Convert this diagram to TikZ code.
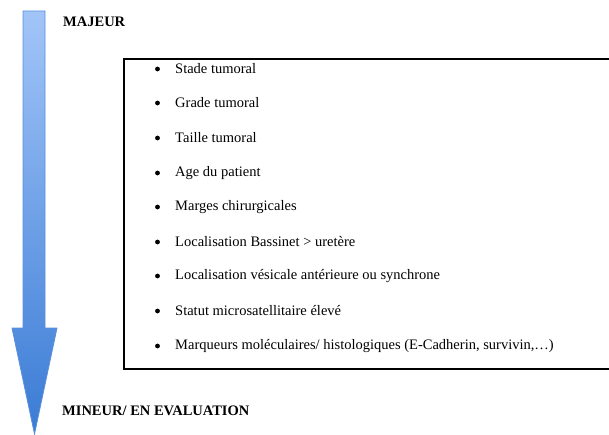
\documentclass[tikz,border=0pt]{standalone}
\usepackage{fontspec}
\setmainfont{Liberation Serif}
\definecolor{arrowtop}{HTML}{A2C5F8}
\definecolor{arrowbot}{HTML}{3A7BD5}
\definecolor{arrowline}{HTML}{5A8FDC}
\tikzset{
	itemtext/.style={anchor=west, inner sep=0, font=\fontsize{14.5}{16}\selectfont},
	bulletdot/.style={circle, fill=black, inner sep=0, minimum size=4.8pt},
	leveltext/.style={anchor=west, inner sep=0, font=\fontsize{14.5}{16}\selectfont\bfseries}
}
\begin{document}
\begin{tikzpicture}[x=1pt, y=-1pt]
	\useasboundingbox (0,0) rectangle (609,435);
	% gradient arrow
	\draw[arrowline, line width=0.8pt, top color=arrowtop, bottom color=arrowbot]
		(23,11) -- (45,11) -- (45,328) -- (57,328) -- (34.5,434) -- (12,328) -- (23,328) -- cycle;
	\node[leveltext] (major) at (63,22) {MAJEUR};
	\node[leveltext] (minor) at (62,411) {MINEUR/ EN EVALUATION};
	% list box
	\draw[line width=1.4pt] (124,59) rectangle (614,369);
	\foreach \y/\itemname/\itemtext in {69/stade/Stade tumoral,103/grade/Grade tumoral,138/taille/Taille tumoral,173/age/Age du patient,207/marges/Marges chirurgicales,242/bassinet/Localisation Bassinet > uretère,276/vesicale/Localisation vésicale antérieure ou synchrone,311/statut/Statut microsatellitaire élevé,346/marqueurs/{Marqueurs moléculaires/ histologiques (E-Cadherin, survivin,…)}}
	{
		\node[bulletdot] (b-\itemname) at (157.5,\y) {};
		\node[itemtext] (\itemname) at (175,\y) {\itemtext};
	}
\end{tikzpicture}
\end{document}
